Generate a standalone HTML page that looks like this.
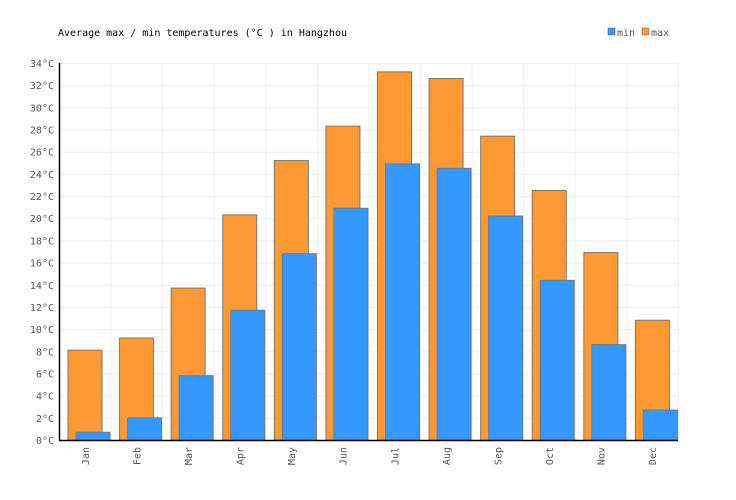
<!DOCTYPE html>
<html><head><meta charset="utf-8"><style>
body{margin:0;background:#fff;}
svg{display:block;font-family:"DejaVu Sans Mono","Liberation Mono",monospace;}
</style></head><body>
<svg id="c" width="736" height="500">
<text x="58" y="36" font-size="10" fill="#000">Average max / min temperatures (°C ) in Hangzhou</text>
<g>
<rect x="608" y="28" width="7" height="7" fill="#3399ff" stroke="#555" stroke-width="0.5"/>
<text x="617" y="36" font-size="10" fill="#555">min</text>
<rect x="642" y="28" width="7" height="7" fill="#ff9933" stroke="#555" stroke-width="0.5"/>
<text x="651" y="36" font-size="10" fill="#555">max</text>
</g>
<g id="grid"></g><g id="bars"></g><g id="axes"></g>
</svg>
<script>
const months=["Jan","Feb","Mar","Apr","May","Jun","Jul","Aug","Sep","Oct","Nov","Dec"];
const maxTemps=[8.1,9.2,13.7,20.3,25.2,28.3,33.2,32.6,27.4,22.5,16.9,10.8];
const minTemps=[0.7,2.0,5.8,11.7,16.8,20.9,24.9,24.5,20.2,14.4,8.6,2.7];
const yTicks=[0,2,4,6,8,10,12,14,16,18,20,22,24,26,28,30,32,34];
const NS="http://www.w3.org/2000/svg";
const X0=59,X1=678,Y0=440,Y1=63,YMAX=34;
const bw=(X1-X0)/months.length;
const y=v=>Y0-(v/YMAX)*(Y0-Y1);
const x=i=>X0+i*bw;
function mk(t,a,p){const e=document.createElementNS(NS,t);for(const k in a)e.setAttribute(k,a[k]);p.appendChild(e);return e;}
const grid=document.getElementById('grid'),bars=document.getElementById('bars'),axes=document.getElementById('axes');
yTicks.forEach(v=>{
 const l=mk('line',{x1:X0,x2:X1,y1:y(v)+0.5,y2:y(v)+0.5,stroke:'#eee'},grid);
 
 
 const t=mk('text',{x:X0-5,y:y(v)+4,'font-size':10,fill:'#555','text-anchor':'end'},axes);
 t.textContent=v+'°C';
 
 
});
for(let i=0;i<=months.length;i++){
 const l=mk('line',{x1:x(i)+0.5,x2:x(i)+0.5,y1:Y1,y2:Y0,stroke:'#eee'},grid);
 
 
}
months.forEach((m,i)=>{
 const r1=mk('rect',{x:x(i)+9,y:y(maxTemps[i]),width:34,height:Y0-y(maxTemps[i]),fill:'#ff9933',stroke:'#777','stroke-width':1},bars);
 
 
 const r2=mk('rect',{x:x(i)+17,y:y(minTemps[i]),width:34,height:Y0-y(minTemps[i]),fill:'#3399ff',stroke:'#777','stroke-width':1},bars);
 
 
 const cx=x(i)+bw/2+4;
 const t=mk('text',{x:0,y:0,'font-size':10,fill:'#555','text-anchor':'end',transform:`translate(${cx},447) rotate(-90)`},axes);
 t.textContent=m;
 
 
});
const ya=mk('line',{x1:X0+0.5,x2:X0+0.5,y1:Y1,y2:Y0+1,stroke:'#000','stroke-width':1.5},axes);


const xa=mk('line',{x1:X0,x2:X1,y1:Y0+0.5,y2:Y0+0.5,stroke:'#000','stroke-width':1.5},axes);


</script>
</body></html>
